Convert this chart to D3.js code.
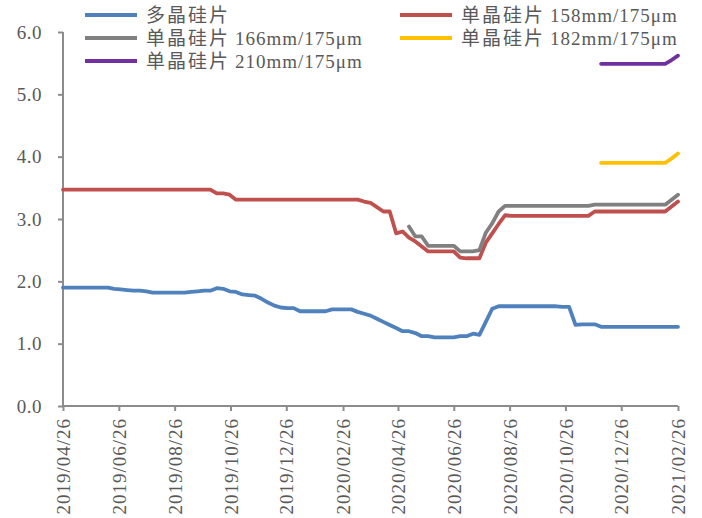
<!DOCTYPE html>
<html><head><meta charset="utf-8">
<script src="https://cdn.jsdelivr.net/npm/d3@7"></script>
<style>
html,body{margin:0;padding:0;background:#fff;}
svg{display:block;}
text{font-family:"Liberation Serif","Noto Sans CJK SC",serif;fill:#595959;}
</style></head>
<body>
<svg id="c" width="702" height="518"></svg>
<script>
const startDate = "2019-04-26";
const endDate = "2021-02-26";
const tickLabels = ["2019/04/26","2019/06/26","2019/08/26","2019/10/26","2019/12/26","2020/02/26","2020/04/26","2020/06/26","2020/08/26","2020/10/26","2020/12/26","2021/02/26"];
const yTicks = [0,1,2,3,4,5,6];
const seriesCn = ["多晶硅片","单晶硅片","单晶硅片","单晶硅片","单晶硅片"];
const seriesSpec = ["","158mm/175μm","166mm/175μm","182mm/175μm","210mm/175μm"];
const seriesColors = ["#4F81BD","#C0504D","#808080","#FFC000","#7030A0"];

const poly = [1.90,1.90,1.90,1.90,1.90,1.90,1.90,1.90,
 1.88,1.87,1.86,1.85,1.85,1.84,1.82,
 1.82,1.82,1.82,1.82,1.82,
 1.83,1.84,1.85,1.85,1.89,1.88,1.84,1.83,1.79,1.78,1.77,1.72,1.66,1.61,1.58,1.57,1.57,
 1.52,1.52,1.52,1.52,1.52,
 1.55,1.55,1.55,1.55,
 1.51,1.48,1.45,1.40,1.35,1.30,1.25,1.20,1.20,1.17,1.12,1.12,
 1.10,1.10,1.10,1.10,
 1.12,1.12,1.16,1.14,1.35,1.56,1.60,
 1.60,1.60,1.60,1.60,1.60,1.60,1.60,1.60,1.60,
 1.59,1.59,1.30,1.31,1.31,1.31,
 1.27,1.27,1.27,1.27,1.27,1.27,1.27,1.27,1.27,1.27,1.27,1.27,1.27];
const mono158 = [3.47,3.47,3.47,3.47,3.47,3.47,3.47,3.47,3.47,3.47,3.47,3.47,
 3.47,3.47,3.47,3.47,3.47,3.47,3.47,3.47,3.47,3.47,3.47,3.47,
 3.41,3.41,3.39,
 3.31,3.31,3.31,3.31,3.31,3.31,3.31,3.31,3.31,3.31,
 3.31,3.31,3.31,3.31,3.31,3.31,3.31,3.31,3.31,3.31,
 3.28,3.26,3.19,3.12,3.12,
 2.77,2.80,2.70,2.64,2.56,
 2.48,2.48,2.48,2.48,2.48,
 2.38,2.37,2.37,2.37,
 2.62,2.77,2.92,3.06,
 3.05,3.05,3.05,3.05,3.05,3.05,3.05,3.05,3.05,3.05,3.05,3.05,3.05,
 3.12,3.12,3.12,3.12,3.12,3.12,3.12,3.12,3.12,3.12,3.12,3.12,
 3.20,3.28];
const mono166 = [null,null,null,null,null,null,null,null,null,null,
 null,null,null,null,null,null,null,null,null,null,
 null,null,null,null,null,null,null,null,null,null,
 null,null,null,null,null,null,null,null,null,null,
 null,null,null,null,null,null,null,null,null,null,
 null,null,null,null,
 2.88,2.72,2.72,
 2.57,2.57,2.57,2.57,2.57,
 2.48,2.48,2.48,
 2.50,2.78,2.93,3.12,
 3.21,3.21,3.21,3.21,3.21,3.21,3.21,3.21,3.21,3.21,3.21,3.21,3.21,3.21,
 3.23,3.23,3.23,3.23,3.23,3.23,3.23,3.23,3.23,3.23,3.23,3.23,
 3.31,3.39];
const mono182 = [null,null,null,null,null,null,null,null,null,null,
 null,null,null,null,null,null,null,null,null,null,
 null,null,null,null,null,null,null,null,null,null,
 null,null,null,null,null,null,null,null,null,null,
 null,null,null,null,null,null,null,null,null,null,
 null,null,null,null,null,null,null,null,null,null,
 null,null,null,null,null,null,null,null,null,null,
 null,null,null,null,null,null,null,null,null,null,
 null,null,null,null,
 3.90,3.90,3.90,3.90,3.90,3.90,3.90,3.90,3.90,3.90,3.90,
 3.97,4.05];
const mono210 = [null,null,null,null,null,null,null,null,null,null,
 null,null,null,null,null,null,null,null,null,null,
 null,null,null,null,null,null,null,null,null,null,
 null,null,null,null,null,null,null,null,null,null,
 null,null,null,null,null,null,null,null,null,null,
 null,null,null,null,null,null,null,null,null,null,
 null,null,null,null,null,null,null,null,null,null,
 null,null,null,null,null,null,null,null,null,null,
 null,null,null,null,
 5.49,5.49,5.49,5.49,5.49,5.49,5.49,5.49,5.49,5.49,5.49,
 5.55,5.62];

const seriesValues = [poly, mono158, mono166, mono182, mono210];

const parse = d3.timeParse("%Y-%m-%d");
const parseTick = d3.timeParse("%Y/%m/%d");
const t0 = parse(startDate), t1 = parse(endDate);
const dates = poly.map((_, i) => d3.timeDay.offset(t0, 7 * i));

const svg = d3.select("#c");
const L = 63, R = 678, T = 32, B = 406;
const x = d3.scaleTime().domain([t0, t1]).range([L, R]);
const y = d3.scaleLinear().domain([0, 6]).range([B, T]);
const axisColor = "#8C8C8C";
const FS = 19;

// Y axis
const yAxis = svg.append("g").attr("transform", `translate(${L},0)`)
  .call(d3.axisLeft(y).tickValues(yTicks).tickFormat(d3.format(".1f")).tickSize(5).tickPadding(16));
yAxis.select(".domain").attr("stroke", axisColor).attr("stroke-width", 2).attr("d", `M0,${T}V${B}`);
yAxis.selectAll(".tick line").attr("stroke", axisColor).attr("stroke-width", 2);
yAxis.selectAll(".tick text").attr("font-size", FS).attr("fill", "#595959")
  .attr("font-family", '"Liberation Serif",serif').attr("letter-spacing", 0.5);

// X axis
const xTickDates = tickLabels.map(parseTick);
const xAxis = svg.append("g").attr("transform", `translate(0,${B})`)
  .call(d3.axisBottom(x).tickValues(xTickDates).tickFormat(d3.timeFormat("%Y/%m/%d")).tickSize(5));
xAxis.select(".domain").attr("stroke", axisColor).attr("stroke-width", 2).attr("d", `M${L},0H${R}`);
xAxis.selectAll(".tick line").attr("stroke", axisColor).attr("stroke-width", 2);
xAxis.selectAll(".tick text")
  .attr("font-size", FS).attr("fill", "#595959").attr("font-family", '"Liberation Serif",serif')
  .attr("letter-spacing", 1)
  .attr("text-anchor", "end").attr("transform", "rotate(-90)")
  .attr("x", -12).attr("y", 0).attr("dy", "0.35em");

// Lines
const line = d3.line().defined(d => d[1] != null)
  .x(d => x(d[0])).y(d => y(d[1]));
seriesValues.forEach((vals, k) => {
  svg.append("path")
    .datum(vals.map((v, i) => [dates[i], v]))
    .attr("fill", "none").attr("stroke", seriesColors[k])
    .attr("stroke-width", 3.8).attr("stroke-linejoin", "round").attr("stroke-linecap", "round")
    .attr("d", line);
});

// Legend
const legendPos = [[85, 15], [400, 15], [85, 38], [400, 38], [85, 61]];
seriesCn.forEach((cn, k) => {
  const [lx, ly] = legendPos[k];
  const g = svg.append("g").attr("transform", `translate(${lx},${ly})`);
  g.append("line").attr("x1", 0).attr("x2", 52).attr("y1", 0).attr("y2", 0)
    .attr("stroke", seriesColors[k]).attr("stroke-width", 3.8);
  const t = g.append("text").attr("x", 61).attr("y", 0).attr("dy", "0.35em").attr("font-size", FS)
    .attr("font-family", '"Noto Sans CJK SC",sans-serif').attr("letter-spacing", 2).text(cn);
  if (seriesSpec[k]) {
    const w = t.node().getComputedTextLength();
    g.append("text").attr("x", 61 + w + 5).attr("y", 0).attr("dy", "0.35em").attr("font-size", FS)
      .attr("font-family", '"Liberation Serif",serif').attr("letter-spacing", 1).text(seriesSpec[k]);
  }
});
</script>
</body></html>
